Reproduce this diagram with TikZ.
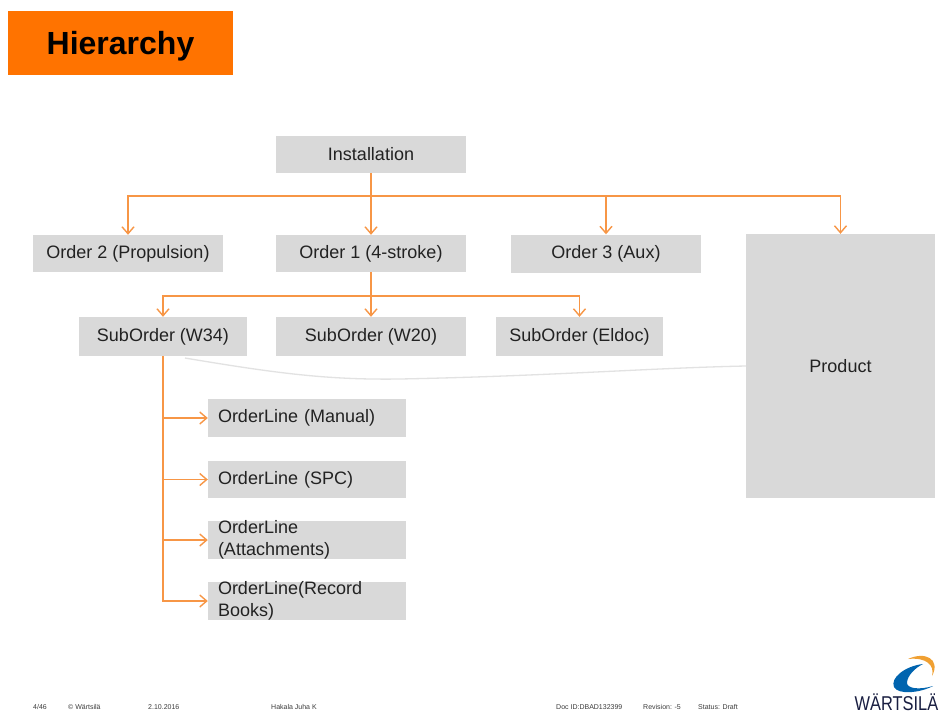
\documentclass[tikz,border=0pt]{standalone}
\usepackage{fontspec}
\setmainfont{Liberation Sans}
\usetikzlibrary{arrows.meta}
\definecolor{orangetitle}{RGB}{255,115,0}
\definecolor{boxgray}{RGB}{217,217,217}
\definecolor{conncol}{RGB}{247,150,70}
\definecolor{txt}{RGB}{34,34,34}
\definecolor{faintc}{RGB}{226,226,226}
\definecolor{footc}{RGB}{60,60,60}
\definecolor{wblue}{RGB}{0,100,175}
\definecolor{worange}{RGB}{240,160,50}
\definecolor{wnavy}{RGB}{25,30,65}
\begin{document}
\begin{tikzpicture}[x=1pt,y=-1pt,
  titlebox/.style={fill=orangetitle, inner sep=0pt, font=\fontsize{32}{38}\selectfont\bfseries, text=black, text depth=0pt},
  box/.style={fill=boxgray, inner sep=0pt, font=\fontsize{18}{22}\selectfont, text=txt},
  olbox/.style={box, align=left, text width=178pt, inner xsep=10pt, minimum width=198pt},
  conn/.style={draw=conncol, line width=1.5pt, -{Straight Barb[length=7pt,width=12pt,line width=1.4pt]}},
  faint/.style={draw=faintc, line width=1.3pt},
  foot/.style={font=\fontsize{7}{8}\selectfont, text=footc, anchor=west, inner sep=0pt}]
\useasboundingbox (0,0) rectangle (943,713);
\fill[white] (0,0) rectangle (943,713);

% title
\node[titlebox, minimum width=225pt, minimum height=64pt] (title) at (120.5,43) {Hierarchy};

% level boxes
\node[box, minimum width=190pt, minimum height=37pt] (inst) at (371,154.5) {Installation};
\node[box, minimum width=190pt, minimum height=37pt] (o2) at (128,253.5) {Order 2 (Propulsion)};
\node[box, minimum width=190pt, minimum height=37pt] (o1) at (371,253.5) {Order 1 (4-stroke)};
\node[box, minimum width=190pt, minimum height=38pt] (o3) at (606,253.5) {Order 3 (Aux)};
\node[box, minimum width=189pt, minimum height=264pt] (prod) at (840.5,366) {Product};

\node[box, minimum width=168pt, minimum height=39pt] (s34) at (163,336.5) {SubOrder (W34)};
\node[box, minimum width=190pt, minimum height=39pt] (s20) at (371,336.5) {SubOrder (W20)};
\node[box, minimum width=167pt, minimum height=39pt] (seld) at (579.5,336.5) {SubOrder (Eldoc)};

\node[olbox, minimum height=38pt] (ol1) at (307,418) {OrderLine (Manual)};
\node[olbox, minimum height=37pt] (ol2) at (307,479.5) {OrderLine (SPC)};
\node[olbox, minimum height=38pt] (ol3) at (307,540) {OrderLine\\(Attachments)};
\node[olbox, minimum height=38pt] (ol4) at (307,601) {OrderLine(Record\\Books)};

% faint line
\coordinate (fA) at (185,358);
\draw[faint] (fA) .. controls (280,374) and (330,380) .. (400,379) .. controls (550,376) and (650,368) .. (prod.west);

% connectors
\coordinate (bus1) at (371,196);
\draw[conn] (inst.south) -- (o1.north);
\draw[conn] (bus1) -| (o2.north);
\draw[conn] (bus1) -| (o3.north);
\draw[conn] (bus1) -| (prod.north);

\coordinate (bus2) at (371,296);
\draw[conn] (o1.south) -- (s20.north);
\draw[conn] (bus2) -| (s34.north);
\draw[conn] (bus2) -| (seld.north);

\draw[conn] (s34.south) |- (ol1.west);
\draw[conn] (s34.south) |- (ol2.west);
\draw[conn] (s34.south) |- (ol3.west);
\draw[conn] (s34.south) |- (ol4.west);

% footer
\node[foot] (f1) at (33,707) {4/46};
\node[foot] (f2) at (68,707) {© Wärtsilä};
\node[foot] (f3) at (148,707) {2.10.2016};
\node[foot] (f4) at (271,707) {Hakala Juha K};
\node[foot] (f5) at (556,707) {Doc ID:DBAD132399};
\node[foot] (f6) at (643,707) {Revision: -5};
\node[foot] (f7) at (698,707) {Status: Draft};

% logo
\fill[wblue] (923,664) .. controls (905,666) and (890,678) .. (894,687)
  .. controls (898,695) and (920,693) .. (933,686)
  .. controls (920,690) and (906,689) .. (907,682)
  .. controls (908,675) and (915,668) .. (923,664) -- cycle;
\fill[worange] (908,659) .. controls (925,651) and (941,659) .. (932,676)
  .. controls (935,665) and (926,657) .. (908,659) -- cycle;
\node[font=\fontsize{20}{21}\selectfont, text=wnavy, xscale=0.82, inner sep=0pt] (logotext) at (896.5,702) {WÄRTSILÄ};
\end{tikzpicture}
\end{document}
